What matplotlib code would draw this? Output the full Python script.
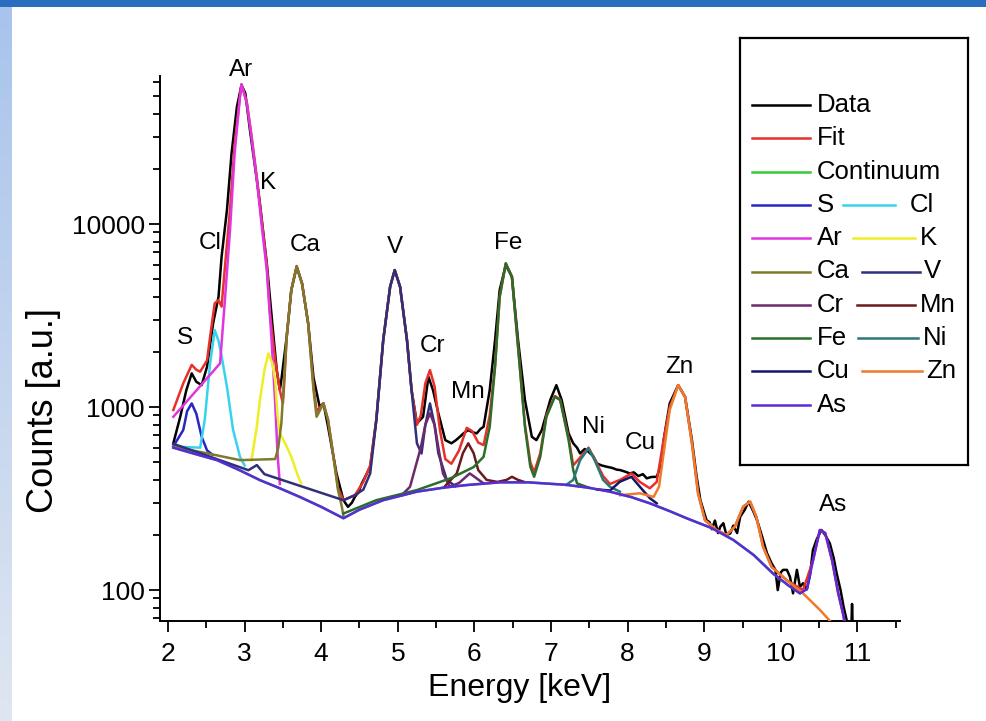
import numpy as np
import matplotlib
matplotlib.use("Agg")
import matplotlib.pyplot as plt
from matplotlib.patches import Rectangle
from matplotlib.colors import LinearSegmentedColormap
from matplotlib.ticker import LogLocator, NullFormatter, FixedLocator

# ---------------- measured spectrum (energy in keV, counts) ----------------
data_e = [2.07, 2.16, 2.24, 2.31, 2.37, 2.44, 2.51, 2.59, 2.66, 2.70, 2.77, 2.83,
          2.90, 2.96, 3.01, 3.07, 3.16, 3.20, 3.29, 3.37, 3.42, 3.46, 3.48, 3.55,
          3.61, 3.68, 3.75, 3.83, 3.90, 3.98, 4.03, 4.09, 4.20, 4.29, 4.35, 4.40,
          4.44, 4.49, 4.53, 4.58, 4.64, 4.72, 4.81, 4.90, 4.96, 5.03, 5.12, 5.18,
          5.25, 5.33, 5.40, 5.46, 5.53, 5.62, 5.70, 5.76, 5.81, 5.86, 5.92, 5.97,
          6.03, 6.08, 6.12, 6.20, 6.27, 6.33, 6.41, 6.49, 6.57, 6.66, 6.75, 6.81,
          6.88, 6.99, 7.07, 7.14, 7.23, 7.29, 7.34, 7.38, 7.44, 7.49, 7.55, 7.60,
          7.66, 7.73, 7.80, 7.86, 7.90, 7.96, 8.03, 8.08, 8.14, 8.20, 8.25, 8.31,
          8.38, 8.43, 8.47, 8.55, 8.66, 8.75, 8.84, 8.90, 8.95, 9.03, 9.07, 9.10,
          9.14, 9.18, 9.21, 9.25, 9.29, 9.34, 9.38, 9.43, 9.47, 9.53, 9.58, 9.64,
          9.69, 9.75, 9.82, 9.88, 9.93, 9.96, 10.00, 10.03, 10.08, 10.12, 10.16,
          10.21, 10.25, 10.29, 10.34, 10.38, 10.42, 10.47, 10.53, 10.58, 10.64,
          10.69, 10.73, 10.78, 10.82, 10.86, 10.89, 10.92, 10.93, 10.94]
data_c = [634, 885, 1238, 1528, 1375, 1318, 1660, 2877, 4008, 6627, 11930, 24330,
          43750, 57500, 51800, 32630, 17400, 12980, 6100, 2634, 1593, 1238, 1405, 2423,
          4357, 5845, 4742, 2866, 1450, 1004, 1047, 780, 434, 310, 285, 300,
          323, 345, 383, 420, 472, 849, 2323, 4542, 5605, 4542, 2323, 1238,
          815, 885, 1465, 1238, 924, 660, 634, 660, 688, 720, 749, 730,
          718, 760, 780, 1238, 2323, 4357, 5970, 5150, 2323, 1092, 688, 660,
          749, 1092, 1318, 1092, 718, 634, 600, 558, 590, 570, 540, 492,
          480, 472, 465, 455, 453, 445, 434, 440, 420, 430, 408, 415,
          416, 470, 660, 1047, 1318, 1138, 660, 420, 310, 241, 235, 215,
          240, 205, 222, 232, 200, 204, 225, 205, 252, 275, 304, 270,
          241, 200, 159, 140, 129, 100, 125, 129, 129, 118, 96,
          129, 104, 109, 101, 120, 166, 190, 213, 200, 180,
          150, 123, 100, 81, 68.5, 62, 60, 84, 60]

# ---------------- fit and its components ----------------
fit_e = [2.07, 2.20, 2.31, 2.37, 2.42, 2.51, 2.56, 2.61, 2.66, 2.70, 2.74, 2.81,
         2.87, 2.94, 2.96, 3.03, 3.09, 3.16, 3.22, 3.29, 3.33, 3.40, 3.46, 3.50,
         3.52, 3.55, 3.61, 3.68, 3.75, 3.83, 3.90, 3.94, 4.03, 4.09, 4.16, 4.22,
         4.29, 4.44, 4.55, 4.64, 4.72, 4.81, 4.90, 4.96, 5.03, 5.12, 5.18, 5.25,
         5.30, 5.36, 5.42, 5.48, 5.55, 5.62, 5.70, 5.80, 5.90, 5.97, 6.05, 6.12,
         6.20, 6.27, 6.33, 6.41, 6.49, 6.57, 6.66, 6.73, 6.78, 6.86, 6.94, 7.05,
         7.12, 7.23, 7.29, 7.38, 7.49, 7.57, 7.68, 7.77, 7.90, 8.05, 8.16, 8.29,
         8.38, 8.47, 8.55, 8.66, 8.75, 8.84, 8.92, 9.01, 9.16, 9.29, 9.40, 9.51,
         9.60, 9.68, 9.77, 9.88, 10.08, 10.29, 10.42, 10.51, 10.58, 10.67, 10.75,
         10.82, 10.84]
fit_c = [964, 1350, 1700, 1600, 1560, 1800, 2600, 3690, 3840, 3540, 5600, 12000,
         27000, 50000, 58000, 46000, 30500, 18000, 10800, 6000, 3300, 1800, 1238, 1047,
         1400, 2423, 4357, 5900, 4742, 2866, 1300, 950, 1047, 849, 540, 360,
         310, 330, 390, 480, 860, 2323, 4542, 5605, 4542, 2323, 1238, 800,
         900, 1350, 1593, 1300, 750, 520, 490, 580, 770, 740, 640, 620,
         900, 1700, 4000, 6100, 5150, 2137, 800, 500, 440, 560, 900, 1150,
         1100, 680, 480, 530, 600, 520, 420, 380, 400, 434, 390, 360,
         390, 660, 1000, 1318, 1138, 634, 338, 241, 213, 200, 222, 286,
         304, 252, 172, 134, 113, 100, 145, 213, 205, 145, 96,
         72, 63]

cont_e = [2.07, 2.35, 2.64, 2.92, 3.20, 3.46, 3.72, 4.00, 4.29, 4.50, 4.81, 5.25,
          5.60, 5.90, 6.33, 6.70, 7.20, 7.50, 7.77, 8.05, 8.29, 8.55, 8.77, 9.10,
          9.38, 9.65, 9.90, 10.10, 10.25]
cont_c = [600, 555, 513, 455, 399, 360, 323, 285, 247, 275, 310, 345,
          363, 375, 388, 388, 376, 362, 345, 322, 298, 270, 247, 218,
          188, 155, 123, 106, 96]

s_e = [2.07, 2.20, 2.25, 2.31, 2.37, 2.44, 2.51, 2.58]
s_c = [610, 750, 950, 1047, 920, 688, 580, 550]

cl_e = [2.11, 2.42, 2.48, 2.55, 2.61, 2.66, 2.70, 2.77, 2.85, 2.94, 3.00]
cl_c = [608, 600, 850, 1733, 2634, 2300, 1900, 1290, 750, 535, 480]

ar_e = [2.07, 2.68, 2.74, 2.81, 2.87, 2.94, 2.96, 3.03, 3.09, 3.16, 3.22, 3.29,
        3.35, 3.40, 3.43, 3.46]
ar_c = [885, 1733, 3690, 9270, 24300, 49600, 58000, 45700, 30000, 17400, 10100, 5600,
        2423, 1047, 560, 380]

k_e = [3.09, 3.16, 3.20, 3.26, 3.31, 3.36, 3.40, 3.43, 3.46, 3.53, 3.61, 3.70, 3.74]
k_c = [513, 780, 1092, 1600, 1963, 1750, 1400, 900, 720, 634, 535, 417, 383]

ca_e = [2.07, 2.50, 2.94, 3.40, 3.44, 3.48, 3.55, 3.61, 3.68, 3.75, 3.83, 3.90,
        3.94, 4.03, 4.09, 4.16, 4.22, 4.27, 4.29]
ca_c = [608, 560, 513, 520, 600, 815, 2423, 4357, 5845, 4742, 2866, 1238,
        885, 1047, 849, 535, 352, 285, 255]

v_e = [2.07, 3.05, 3.16, 3.26, 4.29, 4.44, 4.55, 4.64, 4.72, 4.81, 4.90, 4.96,
       5.03, 5.12, 5.18, 5.25, 5.31, 5.36, 5.42, 5.48, 5.53, 5.64, 5.75]
v_c = [630, 452, 482, 430, 310, 330, 354, 434, 850, 2323, 4542, 5605,
       4542, 2323, 1238, 634, 558, 800, 1047, 800, 558, 400, 370]

cr_e = [5.05, 5.16, 5.30, 5.36, 5.42, 5.48, 5.53, 5.59, 5.68, 5.80, 5.94, 6.12]
cr_c = [330, 367, 600, 800, 924, 800, 600, 434, 367, 385, 434, 383]

mn_e = [5.60, 5.77, 5.85, 5.92, 5.99, 6.05, 6.16, 6.30, 6.42, 6.49, 6.57, 6.65]
mn_c = [363, 434, 560, 634, 560, 453, 400, 390, 400, 416, 400, 390]

fe_e = [4.29, 4.72, 5.25, 5.70, 5.99, 6.12, 6.20, 6.27, 6.33, 6.41, 6.49, 6.57,
        6.66, 6.73, 6.78, 6.86, 6.94, 7.05, 7.12, 7.23, 7.29, 7.34, 7.50]
fe_c = [262, 310, 352, 410, 470, 535, 780, 1660, 4008, 6100, 5150, 2137,
        780, 472, 416, 535, 885, 1138, 1092, 660, 453, 383, 362]

ni_e = [7.20, 7.29, 7.38, 7.49, 7.57, 7.68, 7.77, 7.90]
ni_c = [376, 400, 513, 595, 513, 400, 367, 345]

cu_e = [7.60, 7.77, 7.90, 8.05, 8.16, 8.29, 8.38]
cu_c = [355, 350, 391, 416, 367, 318, 298]

zn_e = [7.90, 8.16, 8.34, 8.41, 8.47, 8.55, 8.66, 8.75, 8.84, 8.92, 9.01, 9.16,
        9.29, 9.40, 9.51, 9.60, 9.68, 9.77, 9.88, 10.08, 10.29, 10.51, 10.64, 10.70]
zn_c = [330, 338, 323, 367, 558, 965, 1318, 1138, 634, 338, 241, 213,
        200, 222, 286, 304, 252, 172, 134, 113, 96, 78, 68, 62]

as_e = [2.07, 2.35, 2.64, 2.92, 3.20, 3.46, 3.72, 4.00, 4.29, 4.50, 4.81, 5.25,
        5.60, 5.90, 6.33, 6.70, 7.20, 7.50, 7.77, 8.05, 8.29, 8.55, 8.77, 9.10,
        9.38, 9.65, 9.90, 10.10, 10.25, 10.34, 10.42, 10.51, 10.58, 10.67, 10.75,
        10.82, 10.84]
as_c = [600, 555, 513, 455, 399, 360, 323, 285, 247, 275, 310, 345,
        363, 375, 388, 388, 376, 362, 345, 322, 298, 270, 247, 218,
        188, 155, 123, 106, 96, 101, 145, 213, 205, 145, 96,
        72, 63]

elements = ["S", "Cl", "Ar", "K", "Ca", "V", "Cr", "Mn", "Fe", "Ni", "Cu", "Zn", "As"]
x_ticks = [2, 3, 4, 5, 6, 7, 8, 9, 10, 11]
y_ticks = [100, 1000, 10000]
y_tick_labels = ["100", "1000", "10000"]

# ---------------- styling ----------------
colors = {
    "Data": "#000000", "Fit": "#e8302a", "Continuum": "#35cc35",
    "S": "#2626c4", "Cl": "#36d4ec", "Ar": "#e034e0", "K": "#eeee24",
    "Ca": "#7e7a2c", "V": "#30307a", "Cr": "#6c2a6c", "Mn": "#6a1a1a",
    "Fe": "#2a6e2a", "Ni": "#2a7878", "Cu": "#161666", "Zn": "#ee7a2c",
    "As": "#5a2adc",
}
components = [
    ("S", s_e, s_c), ("Cl", cl_e, cl_c), ("Ar", ar_e, ar_c), ("K", k_e, k_c),
    ("Ca", ca_e, ca_c), ("V", v_e, v_c), ("Cr", cr_e, cr_c), ("Mn", mn_e, mn_c),
    ("Fe", fe_e, fe_c), ("Ni", ni_e, ni_c), ("Cu", cu_e, cu_c), ("Zn", zn_e, zn_c),
    ("As", as_e, as_c),
]
# peak label anchor points (keV, counts)
label_at = {
    "S": (2.22, 2385), "Cl": (2.55, 7880), "Ar": (2.95, 69500), "K": (3.31, 16750),
    "Ca": (3.79, 7680), "V": (4.96, 7480), "Cr": (5.45, 2153), "Mn": (5.92, 1208),
    "Fe": (6.44, 7880), "Ni": (7.55, 780), "Cu": (8.16, 635), "Zn": (8.67, 1656),
    "As": (10.68, 291),
}

W, H = 986, 721
font = ["Liberation Sans", "DejaVu Sans"]

fig = plt.figure(figsize=(W / 100, H / 100), dpi=100)
fig.patch.set_facecolor("white")

# slide frame: blue title strip and shaded left margin
fig.patches.append(Rectangle((0, 1 - 7 / H), 1, 7 / H, transform=fig.transFigure,
                             facecolor="#2a6cbd", edgecolor="none", zorder=0))
gax = fig.add_axes([0, 0, 12 / W, 1 - 7 / H])
grad_cmap = LinearSegmentedColormap.from_list("side", ["#a8c4ec", "#dfe6f1"])
gax.imshow(np.linspace(0, 1, 256).reshape(-1, 1), aspect="auto", cmap=grad_cmap)
gax.axis("off")

ax = fig.add_axes([160 / W, (H - 621) / H, (900 - 160) / W, (621 - 76) / H])
ax.set_yscale("log")

lw = 1.8
ax.plot(data_e, data_c, color=colors["Data"], lw=lw, zorder=2)
ax.plot(fit_e, fit_c, color=colors["Fit"], lw=lw, zorder=3)
ax.plot(cont_e, cont_c, color=colors["Continuum"], lw=lw, zorder=3.5)
for i, (name, e, c) in enumerate(components):
    ax.plot(e, c, color=colors[name], lw=lw, zorder=4 + i * 0.1)

for name in elements:
    x, y = label_at[name]
    ax.text(x, y, name, ha="center", va="center", fontsize=17.5,
            family=font, clip_on=False, zorder=10)

ax.set_xlim(1.896, 11.556)
ax.set_ylim(67.8, 64400)
for side in ("top", "right"):
    ax.spines[side].set_visible(False)
for side in ("left", "bottom"):
    ax.spines[side].set_linewidth(1.4)

ax.xaxis.set_major_locator(FixedLocator(x_ticks))
ax.xaxis.set_minor_locator(FixedLocator([t + 0.5 for t in x_ticks]))
ax.yaxis.set_major_locator(FixedLocator(y_ticks))
ax.set_yticklabels(y_tick_labels)
ax.yaxis.set_minor_locator(LogLocator(base=10, subs=np.arange(2, 10)))
ax.yaxis.set_minor_formatter(NullFormatter())
ax.tick_params(which="major", direction="out", length=8, width=1.3, labelsize=19)
ax.tick_params(axis="x", which="major", pad=7)
ax.tick_params(axis="y", which="major", pad=3)
ax.tick_params(which="minor", direction="out", length=5, width=1.3)
for lab in ax.get_xticklabels() + ax.get_yticklabels():
    lab.set_family(font)

ax.set_xlabel("Energy [keV]", fontsize=23, family=font, va="center")
ax.xaxis.set_label_coords(0.486, -0.123)
ax.set_ylabel("Counts [a.u.]", fontsize=26, family=font, va="center")
ax.yaxis.set_label_coords(-0.157, 0.387)

# legend panel
lax = fig.add_axes([740 / W, (H - 465) / H, 228 / W, 427 / H])
lax.set_xlim(0, 228)
lax.set_ylim(427, 0)
lax.set_xticks([])
lax.set_yticks([])
for sp in lax.spines.values():
    sp.set_linewidth(1.6)
rows = [["Data"], ["Fit"], ["Continuum"], ["S", "Cl"], ["Ar", "K"], ["Ca", "V"],
        ["Cr", "Mn"], ["Fe", "Ni"], ["Cu", "Zn"], ["As"]]
second = {3: (103, 155, 170), 4: (113, 175, 180), 5: (122, 180, 184),
          6: (117, 175, 180), 7: (118, 178, 183), 8: (122, 182, 186)}
for i, row in enumerate(rows):
    y = 67 + i * 33.3
    lax.plot([12, 70], [y, y], color=colors[row[0]], lw=lw)
    lax.text(77, y, row[0], va="center", ha="left", fontsize=18.5, family=font)
    if len(row) > 1:
        x0, x1, xt = second[i]
        lax.plot([x0, x1], [y, y], color=colors[row[1]], lw=lw)
        lax.text(xt, y, row[1], va="center", ha="left", fontsize=18.5, family=font)

fig.savefig("out.png", dpi=100)
